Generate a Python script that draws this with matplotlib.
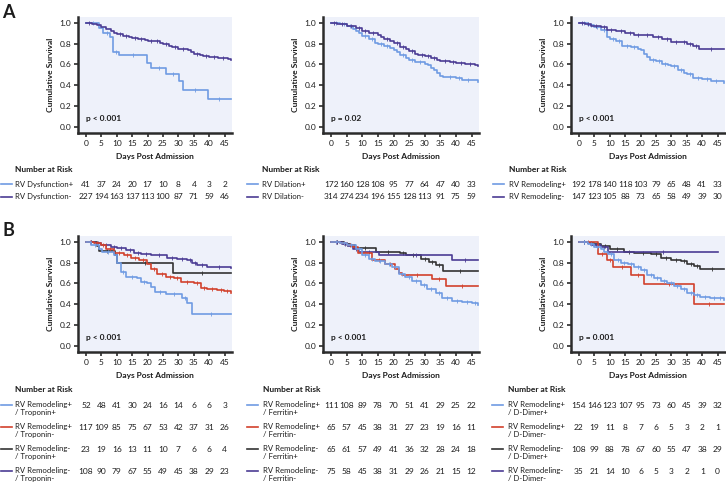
import matplotlib
matplotlib.use("Agg")
import matplotlib.pyplot as plt
import matplotlib.transforms as mtransforms
from matplotlib.lines import Line2D

plt.rcParams['font.family'] = ['Lato', 'DejaVu Sans']

BLUE = "#6f9be3"
PURPLE = "#4b3c94"
RED = "#d2412c"
BLACK = "#333333"
BG = "#eef1fa"
TXT = "#1c1c1c"

ticks = [0, 5, 10, 15, 20, 25, 30, 35, 40, 45]

# ---- Panel A1: RV dysfunction
dys_pos_t = [0, 4.3, 5.6, 7.8, 8.9, 10.7, 19.8, 21.1, 26.0, 30.3, 31.4, 39.5, 47]
dys_pos_s = [1.0, 0.952, 0.898, 0.866, 0.722, 0.693, 0.614, 0.569, 0.511, 0.444, 0.355, 0.268, 0.268]
dys_neg_t = [0, 2, 3.5, 5, 6.5, 8, 9, 10, 12, 14, 15, 17, 19, 20, 22, 24, 25, 27, 28, 30, 33, 34, 35, 37, 38, 40, 43, 46, 47]
dys_neg_s = [1.0, 0.99, 0.98, 0.96, 0.94, 0.92, 0.905, 0.89, 0.875, 0.865, 0.857, 0.845, 0.835, 0.828, 0.82, 0.805,
             0.796, 0.78, 0.765, 0.745, 0.74, 0.72, 0.70, 0.69, 0.68, 0.674, 0.66, 0.655, 0.645]
dys_labels = ["RV Dysfunction+", "RV Dysfunction-"]
dys_risk = [[41, 37, 24, 20, 17, 10, 8, 4, 3, 2],
            [227, 194, 163, 137, 113, 100, 87, 71, 59, 46]]

# ---- Panel A2: RV dilation
dil_pos_t = [0, 3, 5, 7, 8, 9, 10, 12, 14, 15, 17, 19, 20, 21, 22, 24, 25, 27, 30, 31, 32, 33, 34, 35, 36, 40, 42, 46, 47]
dil_pos_s = [1.0, 0.99, 0.97, 0.94, 0.92, 0.9, 0.876, 0.84, 0.81, 0.80, 0.78, 0.76, 0.74, 0.72, 0.69, 0.66, 0.64,
             0.62, 0.605, 0.59, 0.57, 0.55, 0.52, 0.49, 0.478, 0.468, 0.455, 0.45, 0.436]
dil_neg_t = [0, 2, 5, 8, 10, 12, 15, 16, 17, 19, 20, 22, 24, 25, 27, 28, 30, 32, 34, 35, 38, 40, 43, 46, 47]
dil_neg_s = [1.0, 0.99, 0.97, 0.95, 0.92, 0.90, 0.882, 0.86, 0.84, 0.82, 0.81, 0.77, 0.75, 0.73, 0.70, 0.69,
             0.685, 0.66, 0.645, 0.637, 0.62, 0.61, 0.60, 0.595, 0.583]
dil_labels = ["RV Dilation+", "RV Dilation-"]
dil_risk = [[172, 160, 128, 108, 95, 77, 64, 47, 40, 33],
            [314, 274, 234, 196, 155, 128, 113, 91, 75, 59]]

# ---- Panel A3: RV remodeling
rem_pos_t = [0, 3, 5, 7, 9, 10, 12, 14, 17, 19, 20, 21, 22, 23, 25, 27, 29, 30, 32, 34, 35, 37, 40, 43, 46, 47]
rem_pos_s = [1.0, 0.98, 0.96, 0.93, 0.86, 0.84, 0.82, 0.78, 0.77, 0.75, 0.738, 0.70, 0.674, 0.64, 0.636, 0.60,
             0.59, 0.585, 0.55, 0.52, 0.508, 0.47, 0.457, 0.445, 0.444, 0.425]
rem_neg_t = [0, 2, 4, 7, 9, 12, 15, 18, 20, 24, 27, 30, 33, 35, 37, 39, 47]
rem_neg_s = [1.0, 0.99, 0.97, 0.96, 0.935, 0.925, 0.90, 0.885, 0.88, 0.86, 0.84, 0.818, 0.815, 0.80, 0.775, 0.75, 0.75]
rem_labels = ["RV Remodeling+", "RV Remodeling-"]
rem_risk = [[192, 178, 140, 118, 103, 79, 65, 48, 41, 33],
            [147, 123, 105, 88, 73, 65, 58, 49, 39, 30]]

# ---- Panel B1: remodeling x troponin
tro_pp_t = [0, 1.5, 4.2, 5.3, 9.0, 10.2, 11.3, 12.9, 16.7, 17.8, 19.9, 21.0, 22.3, 25.9, 31.3, 32.9, 34.3, 47]
tro_pp_s = [1.0, 0.97, 0.93, 0.90, 0.87, 0.80, 0.71, 0.657, 0.648, 0.616, 0.606, 0.561, 0.52, 0.494, 0.456, 0.408, 0.306, 0.306]
tro_pn_t = [0, 2.6, 4.8, 6.5, 9.1, 12.3, 14.5, 17.2, 19.9, 21.0, 23.2, 25.9, 28.6, 30.7, 35.1, 37.2, 39.4, 42.6, 44.8, 47]
tro_pn_s = [1.0, 0.99, 0.97, 0.93, 0.893, 0.871, 0.848, 0.823, 0.791, 0.743, 0.695, 0.663, 0.648, 0.616, 0.60,
            0.552, 0.545, 0.536, 0.525, 0.51]
tro_np_t = [0, 3.5, 4.3, 9.5, 10.2, 28.2, 47]
tro_np_s = [1.0, 0.957, 0.913, 0.87, 0.80, 0.70, 0.70]
tro_nn_t = [0, 3, 5, 8, 10, 13, 15.6, 18, 21, 26.4, 29.6, 32.9, 34.5, 36.1, 39.4, 47]
tro_nn_s = [1.0, 0.99, 0.97, 0.95, 0.94, 0.92, 0.893, 0.887, 0.871, 0.848, 0.839, 0.823, 0.80, 0.775, 0.753, 0.745]
tro_labels = ["RV Remodeling+\n/ Troponin+", "RV Remodeling+\n/ Troponin-",
              "RV Remodeling-\n/ Troponin+", "RV Remodeling-\n/ Troponin-"]
tro_risk = [[52, 48, 41, 30, 24, 16, 14, 6, 6, 3],
            [117, 109, 85, 75, 67, 53, 42, 37, 31, 26],
            [23, 19, 16, 13, 11, 10, 7, 6, 6, 4],
            [108, 90, 79, 67, 55, 49, 45, 38, 29, 23]]

# ---- Panel B2: remodeling x ferritin
fer_pp_t = [0, 3, 5, 8, 9.9, 12, 14.2, 17.4, 19.5, 21.7, 23.8, 26, 28.7, 30.8, 33.5, 35.7, 38.9, 42.1, 45.3, 47]
fer_pp_s = [1.0, 0.99, 0.97, 0.93, 0.871, 0.839, 0.814, 0.791, 0.753, 0.695, 0.663, 0.622, 0.584, 0.543, 0.505,
            0.456, 0.434, 0.424, 0.415, 0.393]
fer_pn_t = [0, 3, 5, 7, 8.5, 13.1, 17.4, 20.6, 21.7, 22.8, 32.4, 36.7, 47]
fer_pn_s = [1.0, 0.99, 0.97, 0.95, 0.89, 0.823, 0.791, 0.743, 0.702, 0.68, 0.638, 0.577, 0.577]
fer_np_t = [0, 4, 6, 7.5, 14.5, 22, 24, 28.7, 31.4, 33.5, 35.9, 47]
fer_np_s = [1.0, 0.98, 0.97, 0.94, 0.903, 0.89, 0.871, 0.83, 0.81, 0.775, 0.72, 0.72]
fer_nn_t = [0, 3.5, 5.5, 7, 9, 15.3, 38.9, 47]
fer_nn_s = [1.0, 0.98, 0.96, 0.93, 0.905, 0.871, 0.823, 0.823]
fer_labels = ["RV Remodeling+\n/ Ferritin+", "RV Remodeling+\n/ Ferritin-",
              "RV Remodeling-\n/ Ferritin+", "RV Remodeling-\n/ Ferritin-"]
fer_risk = [[111, 108, 89, 78, 70, 51, 41, 29, 25, 22],
            [65, 57, 45, 38, 31, 27, 23, 19, 16, 11],
            [65, 61, 57, 49, 41, 36, 32, 28, 24, 18],
            [75, 58, 45, 38, 31, 29, 26, 21, 15, 12]]

# ---- Panel B3: remodeling x D-dimer
dd_pp_t = [0, 3, 5, 7, 8, 9.3, 11.5, 13.6, 15.8, 17.9, 20.1, 22.2, 24.4, 26.5, 28.7, 30.8, 33, 35.1, 37.3, 39.4,
           42.6, 44.8, 47]
dd_pp_s = [1.0, 0.98, 0.95, 0.93, 0.90, 0.887, 0.823, 0.80, 0.785, 0.759, 0.727, 0.68, 0.648, 0.625, 0.60, 0.577,
           0.546, 0.51, 0.488, 0.472, 0.462, 0.456, 0.44]
dd_pn_t = [0, 6.1, 9.1, 11.0, 16.9, 21.2, 37.3, 47]
dd_pn_s = [1.0, 0.887, 0.823, 0.759, 0.68, 0.594, 0.402, 0.402]
dd_np_t = [0, 3, 5, 7, 10, 14.7, 18, 23.3, 26.5, 29.8, 33, 35.1, 37.3, 39.4, 47]
dd_np_s = [1.0, 0.99, 0.98, 0.96, 0.93, 0.903, 0.893, 0.88, 0.848, 0.823, 0.816, 0.785, 0.765, 0.743, 0.743]
dd_nn_t = [0, 3, 4, 7, 9.5, 45]
dd_nn_s = [1.0, 0.99, 0.97, 0.95, 0.903, 0.903]
dd_labels = ["RV Remodeling+\n/ D-Dimer+", "RV Remodeling+\n/ D-Dimer-",
             "RV Remodeling-\n/ D-Dimer+", "RV Remodeling-\n/ D-Dimer-"]
dd_risk = [[154, 146, 123, 107, 95, 73, 60, 45, 39, 32],
           [22, 19, 11, 8, 7, 6, 5, 3, 2, 1],
           [108, 99, 88, 78, 67, 60, 55, 47, 38, 29],
           [35, 21, 14, 10, 6, 5, 3, 2, 1, 0]]

W, H = 726, 484
fig = plt.figure(figsize=(W / 100, H / 100), dpi=100)
FS = 6
LAB_FS = 5.6


def fx(x):
    return x / W


def fy(y):
    return 1 - y / H


def km_axes(left, right, top, bottom, curves, pval):
    ax = fig.add_axes([fx(left), fy(bottom), fx(right - left), (bottom - top) / H])
    ax.set_facecolor(BG)
    for t, s, c in curves:
        ax.step(t, s, where="post", color=c, lw=1.2, zorder=3)
        # small censoring ticks in the middle of flat stretches
        mid_t = [(t[i] + t[i + 1]) / 2 for i in range(len(t) - 1) if t[i + 1] - t[i] > 1.5]
        mid_s = [s[i] for i in range(len(t) - 1) if t[i + 1] - t[i] > 1.5]
        ax.plot(mid_t, mid_s, ls="none", marker="|", ms=2.2, mew=0.6, color=c, zorder=3)
    ax.set_xlim(-2.6, 47.4)
    ax.set_ylim(-0.058, 1.055)
    ax.set_xticks(ticks)
    ax.set_yticks([0, 0.2, 0.4, 0.6, 0.8, 1.0])
    ax.set_yticklabels(["0.0", "0.2", "0.4", "0.6", "0.8", "1.0"])
    for side in ["top", "right"]:
        ax.spines[side].set_visible(False)
    for side in ["left", "bottom"]:
        ax.spines[side].set_linewidth(1.8)
        ax.spines[side].set_color("#2b2b2b")
    ax.tick_params(direction="out", length=3, width=1.2, color="#2b2b2b", labelsize=FS, pad=2,
                   labelcolor=TXT)
    ax.set_xlabel("Days Post Admission", fontsize=FS, fontweight="bold", labelpad=4.5, color=TXT)
    ax.set_ylabel("Cumulative Survival", fontsize=FS, fontweight="bold", labelpad=4, color=TXT)
    ax.text(0, 0.08, pval, fontsize=FS, fontweight="bold", va="center", ha="left", color=TXT)
    return ax


def risk_table(ax, x_line, x_text, y_head, rows, labels, colors, step):
    fig.text(fx(x_text), fy(y_head), "Number at Risk", fontsize=FS, fontweight="bold",
             va="center", ha="left", color=TXT)
    trans = mtransforms.blended_transform_factory(ax.transData, fig.transFigure)
    for i, (vals, lab, c) in enumerate(zip(rows, labels, colors)):
        y = y_head + 15 + i * step
        fig.add_artist(Line2D([fx(x_line), fx(x_line + 11)], [fy(y), fy(y)], color=c, lw=1.2))
        if "\n" in lab:
            fig.text(fx(x_text), fy(y - 4.5), lab, fontsize=LAB_FS, va="top", ha="left",
                     color=TXT, linespacing=1.2)
        else:
            fig.text(fx(x_text), fy(y), lab, fontsize=LAB_FS, va="center", ha="left", color=TXT)
        for tk, v in zip(ticks, vals):
            ax.text(tk, fy(y), str(v), transform=trans, fontsize=FS, va="center", ha="center",
                    color=TXT)


# row A
a_top, a_bot = 17, 133
ax1 = km_axes(78, 232, a_top, a_bot, [(dys_pos_t, dys_pos_s, BLUE), (dys_neg_t, dys_neg_s, PURPLE)], "p < 0.001")
ax2 = km_axes(323, 479, a_top, a_bot, [(dil_pos_t, dil_pos_s, BLUE), (dil_neg_t, dil_neg_s, PURPLE)], "p = 0.02")
ax3 = km_axes(571, 725, a_top, a_bot, [(rem_pos_t, rem_pos_s, BLUE), (rem_neg_t, rem_neg_s, PURPLE)], "p < 0.001")

risk_table(ax1, 1, 15, 169, dys_risk, dys_labels, [BLUE, PURPLE], 13)
risk_table(ax2, 247, 262, 169, dil_risk, dil_labels, [BLUE, PURPLE], 13)
risk_table(ax3, 493, 509, 169, rem_risk, rem_labels, [BLUE, PURPLE], 13)

# row B
b_top, b_bot = 236, 352
four = [BLUE, RED, BLACK, PURPLE]
bx1 = km_axes(78, 232, b_top, b_bot,
              [(tro_np_t, tro_np_s, BLACK), (tro_nn_t, tro_nn_s, PURPLE),
               (tro_pn_t, tro_pn_s, RED), (tro_pp_t, tro_pp_s, BLUE)], "p < 0.001")
bx2 = km_axes(323, 479, b_top, b_bot,
              [(fer_np_t, fer_np_s, BLACK), (fer_nn_t, fer_nn_s, PURPLE),
               (fer_pn_t, fer_pn_s, RED), (fer_pp_t, fer_pp_s, BLUE)], "p < 0.001")
bx3 = km_axes(571, 725, b_top, b_bot,
              [(dd_np_t, dd_np_s, BLACK), (dd_nn_t, dd_nn_s, PURPLE),
               (dd_pn_t, dd_pn_s, RED), (dd_pp_t, dd_pp_s, BLUE)], "p = 0.001")

risk_table(bx1, 1, 15, 390, tro_risk, tro_labels, four, 22)
risk_table(bx2, 247, 263, 390, fer_risk, fer_labels, four, 22)
risk_table(bx3, 492, 508, 390, dd_risk, dd_labels, four, 22)

fig.text(fx(2), fy(13), "A", fontsize=13, fontweight="bold", va="center", ha="left", color=TXT)
fig.text(fx(2), fy(230), "B", fontsize=13, fontweight="bold", va="center", ha="left", color=TXT)

fig.savefig("out.png", dpi=100, facecolor="white")
